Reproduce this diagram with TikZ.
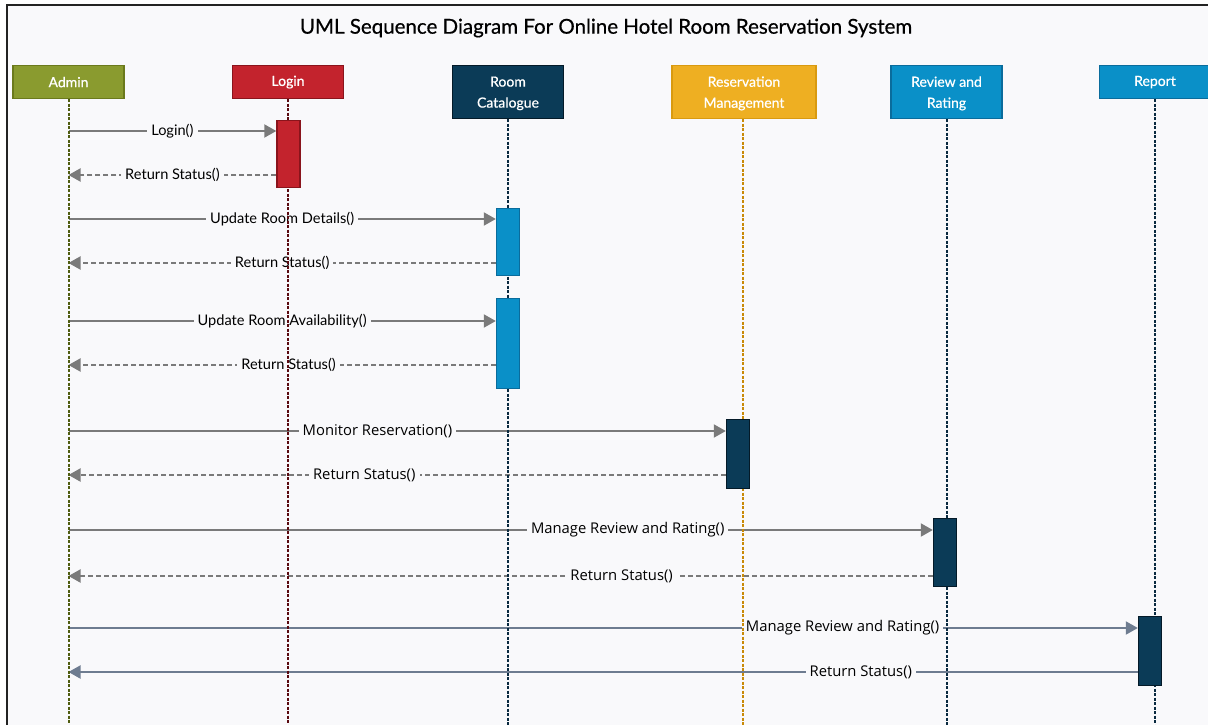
\documentclass[tikz,border=0pt]{standalone}
\usepackage{fontspec}
\setmainfont{Lato}
\newfontfamily\msgfont{Open Sans}
\newfontfamily\heavyfont{Lato}[FakeBold=0.6]
\usetikzlibrary{arrows.meta,calc}

\definecolor{canvas}{HTML}{F9F9FB}
\definecolor{frameline}{HTML}{222222}
\definecolor{adminfill}{HTML}{8A9B2F}
\definecolor{admindraw}{HTML}{6B7A1C}
\definecolor{adminline}{HTML}{4F5C10}
\definecolor{loginfill}{HTML}{C3232D}
\definecolor{logindraw}{HTML}{8A141C}
\definecolor{loginline}{HTML}{5A0A10}
\definecolor{navyfill}{HTML}{0B3B57}
\definecolor{navydraw}{HTML}{041A28}
\definecolor{navyline}{HTML}{0A2A40}
\definecolor{resfill}{HTML}{EEAF22}
\definecolor{resdraw}{HTML}{D99A10}
\definecolor{resline}{HTML}{C98A08}
\definecolor{bluefill}{HTML}{0A90C8}
\definecolor{bluedraw}{HTML}{0A6C9C}
\definecolor{msggray}{HTML}{7A7A7A}
\definecolor{msgslate}{HTML}{6E7C90}

\pgfdeclarelayer{bglayer}
\pgfdeclarelayer{msglayer}
\pgfdeclarelayer{linelayer}
\pgfsetlayers{bglayer,msglayer,linelayer,main}

\tikzset{
  head/.style={draw, line width=1.2pt, text=white, font=\heavyfont\fontsize{14}{21}\selectfont,
    minimum width=#1, align=center, inner sep=0pt},
  headone/.style={head=111pt, minimum height=33pt},
  headtwo/.style={head=111pt, minimum height=53pt, text depth=-2pt},
  lifeline/.style={line width=2pt, dash pattern=on 3pt off 1.5pt},
  actbox/.style={draw, line width=1.4pt, minimum width=23pt, inner sep=0pt},
  msg/.style={draw=msggray, line width=2pt, -{Triangle[length=12pt,width=13pt]}, color=msggray},
  ret/.style={msg, dash pattern=on 5pt off 3pt},
  lbl/.style={fill=canvas, text=black, inner xsep=4pt, inner ysep=1pt},
  lbla/.style={lbl, font=\fontsize{14.6}{16}\selectfont},
  lblb/.style={lbl, font=\msgfont\fontsize{14.8}{16}\selectfont},
}

\begin{document}
\begin{tikzpicture}[x=1pt, y=-1pt]
\useasboundingbox (0,0) rectangle (1208,725);
\begin{pgfonlayer}{bglayer}
\fill[white] (0,0) rectangle (1208,725);
\fill[canvas] (7,5) rectangle (1208,725);
\draw[frameline, line width=2pt] (7,725) -- (7,5) -- (1208,5);
\end{pgfonlayer}

\node (title) at (606,28) {\heavyfont\fontsize{20.5}{24}\selectfont UML Sequence Diagram For Online Hotel Room Reservation System};

% lifeline heads
\node[headone, fill=adminfill, draw=admindraw, anchor=north] (admin) at (68.5,65) {Admin};
\node[headone, fill=loginfill, draw=logindraw, anchor=north] (login) at (288,65) {Login};
\node[headtwo, fill=navyfill, draw=navydraw, anchor=north] (room) at (508,65) {Room\\Catalogue};
\node[headtwo, fill=resfill, draw=resdraw, anchor=north, minimum width=144pt] (resv) at (744,65) {Reservation\\Management};
\node[headtwo, fill=bluefill, draw=bluedraw, anchor=north] (review) at (946.5,65) {Review and\\Rating};
\node[headone, fill=bluefill, draw=bluedraw, anchor=north] (report) at (1155,65) {Report};

% lifelines run down to the lower edge
\coordinate (bottom) at (0,725);
\coordinate (resvtop) at ([xshift=-1pt]resv.south);

% message anchor points on the Admin lifeline
\foreach \n/\y in {1/131,2/175,3/219,4/263,5/321,6/365,7/431,8/475,9/530,10/576,11/628,12/672}
  \coordinate (a\n) at (68.5,\y);

% activation bars
\node[actbox, fill=loginfill, draw=logindraw, minimum height=67pt, anchor=north] (act1) at (288.5,120) {};
\node[actbox, fill=bluefill, draw=bluedraw, minimum height=67pt, anchor=north] (act2) at (508,208) {};
\node[actbox, fill=bluefill, draw=bluedraw, minimum height=90pt, anchor=north] (act3) at (508,298) {};
\node[actbox, fill=navyfill, draw=navydraw, minimum height=69pt, anchor=north] (act4) at (738,419) {};
\node[actbox, fill=navyfill, draw=navydraw, minimum height=68pt, anchor=north] (act5) at (945,518) {};
\node[actbox, fill=navyfill, draw=navydraw, minimum height=69pt, anchor=north] (act6) at (1150,616) {};

% messages
\begin{pgfonlayer}{msglayer}
\draw[msg] (a1) -- node[lbla] {Login()} (act1.west |- a1);
\draw[ret] (act1.west |- a2) -- node[lbla] {Return Status()} (a2);
\draw[msg] (a3) -- node[lbla] {Update Room Details()} (act2.west |- a3);
\draw[ret] (act2.west |- a4) -- node[lbla] {Return Status()} (a4);
\draw[msg] (a5) -- node[lbla] {Update Room Availability()} (act3.west |- a5);
\draw[ret] (act3.west |- a6) -- node[lbla, pos=0.485] {Return Status()} (a6);
\draw[msg] (a7) -- node[lblb, pos=0.47] {Monitor Reservation()} (act4.west |- a7);
\draw[ret] (act4.west |- a8) -- node[lblb, pos=0.55] {Return Status()} (a8);
\draw[msg] (a9) -- node[lblb, pos=0.647] {Manage Review and Rating()} (act5.west |- a9);
\draw[ret] (act5.west |- a10) -- node[lblb, pos=0.36] {Return Status()} (a10);
\draw[msg, draw=msgslate, color=msgslate] (a11) -- node[lblb, pos=0.724] {Manage Review and Rating()} (act6.west |- a11);
\draw[msg, draw=msgslate, color=msgslate] (act6.west |- a12) -- node[lblb, pos=0.259] {Return Status()} (a12);
\end{pgfonlayer}

% lifelines
\begin{pgfonlayer}{linelayer}
\draw[lifeline, adminline] (admin.south) -- (admin.south |- bottom);
\draw[lifeline, loginline] (login.south) -- (login.south |- bottom);
\draw[lifeline, navyline] (room.south) -- (room.south |- bottom);
\draw[lifeline, resline] (resvtop) -- (resvtop |- bottom);
\draw[lifeline, navyline] (review.south) -- (review.south |- bottom);
\draw[lifeline, navyline] (report.south) -- (report.south |- bottom);
\end{pgfonlayer}
\end{tikzpicture}
\end{document}
